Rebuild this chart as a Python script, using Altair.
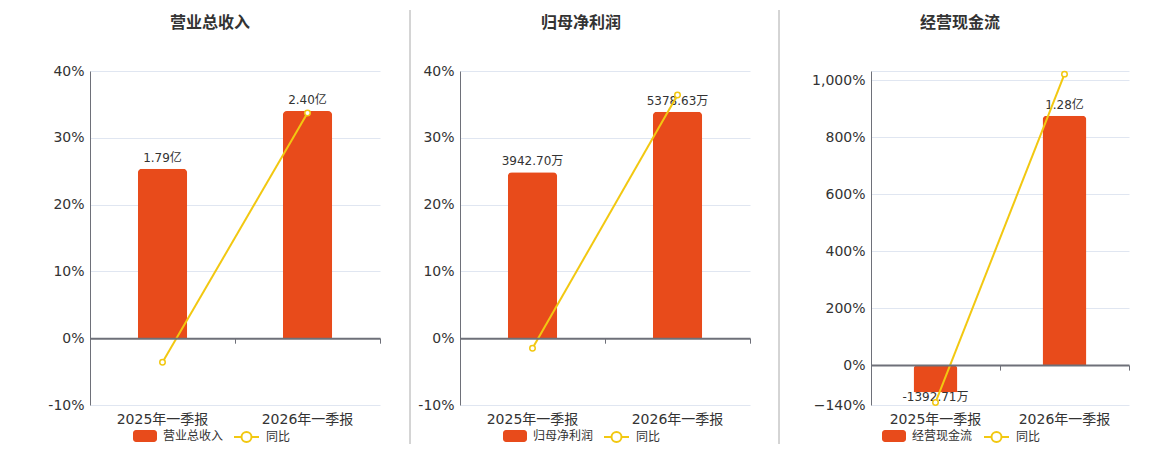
import altair as alt
import pandas as pd

# ---------------- data ----------------
categories = ["2025年一季报", "2026年一季报"]
panel_titles = ["营业总收入", "归母净利润", "经营现金流"]

rev_values = [1.79, 2.40]            # 亿
rev_labels = ["1.79亿", "2.40亿"]
rev_yoy = [-3.6, 33.7]               # %

np_values = [3942.70, 5378.63]       # 万
np_labels = ["3942.70万", "5378.63万"]
np_yoy = [-1.5, 36.4]

cf_values = [-1392.71, 12800.0]      # 万
cf_labels = ["-1392.71万", "1.28亿"]
cf_yoy = [-131.0, 1021.0]

yoy_name = "同比"

# axis set-ups
pct_domains = [[-10, 40], [-10, 40], [-140, 1032]]
pct_ticks = [[-10, 0, 10, 20, 30, 40], [-10, 0, 10, 20, 30, 40],
             [-140, 0, 200, 400, 600, 800, 1000, 1032]]
bar_domains = [[-0.706, 2.824], [-1586.6, 6346.5], [-2048.0, 15097.0]]

BAR = "#e84b1b"
LINE = "#f2c811"
AXIS = "#6e7079"
GRID = "#e0e6f1"
TXT = "#333333"
FONT = "DejaVu Sans, Noto Sans CJK SC"

RECT_PATH = ("M-0.75,-0.5 H0.75 A0.25,0.25 0 0 1 1,-0.25 V0.25 "
             "A0.25,0.25 0 0 1 0.75,0.5 H-0.75 A0.25,0.25 0 0 1 -1,0.25 "
             "V-0.25 A0.25,0.25 0 0 1 -0.75,-0.5 Z")
LINE_PATH = ("M-1,0 H-0.4 M0.4,0 A0.4,0.4 0 1 1 -0.4,0 "
             "A0.4,0.4 0 1 1 0.4,0 M0.4,0 H1")


def panel(idx, values, labels, yoy, width, height, extent, title_x,
          leg_x1, leg_x2, sep_x=None):
    df = pd.DataFrame({
        "cat": categories,
        "val": values,
        "lab": labels,
        "yoy": yoy,
        "name": [panel_titles[idx]] * 2,
        "s": [yoy_name] * 2,
    })
    dmin, dmax = pct_domains[idx]
    zero_off = -height * (0 - dmin) / (dmax - dmin)

    xscale = alt.Scale(paddingInner=0, paddingOuter=0)
    bscale = alt.Scale(domain=bar_domains[idx], nice=False, zero=False)
    pscale = alt.Scale(domain=pct_domains[idx], nice=False, zero=False)

    base = alt.Chart(df)

    bars = base.mark_bar(cornerRadiusEnd=4, width=alt.RelativeBandSize(0.34)).encode(
        x=alt.X("cat:N", sort=categories, scale=xscale, title=None,
                axis=alt.Axis(orient="bottom", domain=False, ticks=False, tickSize=0,
                              labelAngle=0, labelFontSize=14, labelColor=TXT,
                              labelPadding=7, labelFont=FONT, grid=False)),
        y=alt.Y("val:Q", scale=bscale, axis=None),
        fill=alt.Fill("name:N", scale=alt.Scale(range=[BAR]),
                      legend=alt.Legend(orient="none", legendX=leg_x1, legendY=353,
                                        title=None, symbolType=RECT_PATH,
                                        symbolSize=576, symbolStrokeWidth=0,
                                        labelFontSize=12, labelColor=TXT,
                                        labelFont=FONT, labelOffset=6, padding=0)),
    )

    text_enc = dict(
        x=alt.X("cat:N", sort=categories, scale=xscale, axis=None),
        y=alt.Y("val:Q", scale=bscale, axis=None),
        text="lab:N",
    )
    texts_pos = base.transform_filter("datum.val >= 0").mark_text(
        fontSize=12, color=TXT, font=FONT, dy=-11).encode(**text_enc)
    texts_neg = base.transform_filter("datum.val < 0").mark_text(
        fontSize=12, color=TXT, font=FONT, dy=5).encode(**text_enc)

    if dmax > 100:
        lab_expr = "datum.value > 1000 ? '' : format(datum.value, ',') + '%'"
    else:
        lab_expr = "datum.value + '%'"

    line = base.mark_line(strokeWidth=2).encode(
        x=alt.X("cat:N", sort=categories, scale=xscale, axis=None),
        y=alt.Y("yoy:Q", scale=pscale, title=None,
                axis=alt.Axis(values=pct_ticks[idx], labelExpr=lab_expr,
                              grid=True, gridColor=GRID, gridWidth=1,
                              domain=True, domainColor=AXIS, domainWidth=1,
                              ticks=False, labelFontSize=14, labelColor=TXT,
                              labelFont=FONT, labelPadding=6,
                              minExtent=extent, maxExtent=extent)),
        stroke=alt.Stroke("s:N", scale=alt.Scale(range=[LINE]),
                          legend=alt.Legend(orient="none", legendX=leg_x2, legendY=352.5,
                                            title=None, symbolType=LINE_PATH,
                                            symbolSize=625, symbolStrokeWidth=2,
                                            symbolFillColor="white",
                                            labelFontSize=12, labelColor=TXT,
                                            labelFont=FONT, labelOffset=6, padding=0)),
    )

    points = base.mark_point(shape="circle", filled=True, fill="white", stroke=LINE,
                             strokeWidth=1.5, size=30, opacity=1).encode(
        x=alt.X("cat:N", sort=categories, scale=xscale, title=None,
                axis=alt.Axis(orient="bottom", offset=zero_off, labels=False,
                              domain=True, domainColor=AXIS, domainWidth=2,
                              ticks=True, tickColor=AXIS, tickSize=5, tickWidth=1,
                              bandPosition=1, grid=False, zindex=1)),
        y=alt.Y("yoy:Q", scale=pscale, axis=None),
    )

    title_df = pd.DataFrame({"t": [panel_titles[idx]]})
    title = alt.Chart(title_df).mark_text(fontSize=16, fontWeight="bold", color=TXT,
                                          font=FONT).encode(
        text="t:N", x=alt.value(title_x), y=alt.value(-48))

    layers = [bars, texts_pos, texts_neg, line, points, title]
    if sep_x is not None:
        sep = alt.Chart(title_df).mark_rule(color="#aaaaaa", strokeWidth=1).encode(
            x=alt.value(sep_x), y=alt.value(-61), y2=alt.value(373))
        layers.append(sep)

    return alt.layer(*layers).resolve_scale(
        y="independent").resolve_axis(x="independent").properties(
        width=width, height=height)


p1 = panel(0, rev_values, rev_labels, rev_yoy, 290, 334, 82, 120, 43, 143)
p2 = panel(1, np_values, np_labels, np_yoy, 290, 334, 70, 121, 43, 143, sep_x=-50)
p3 = panel(2, cf_values, cf_labels, cf_yoy, 258, 334, 111, 89, 11, 112, sep_x=-92)

chart = alt.hconcat(p1, p2, p3, spacing=9).resolve_scale(
    fill="independent", stroke="independent", y="independent", x="independent"
).resolve_legend(fill="independent", stroke="independent").properties(
    padding={"top": 1, "left": 0, "right": 0, "bottom": 0},
    background="white",
).configure_view(stroke=None)

chart.save("out.html", embed_options={"renderer": "svg", "actions": False})
